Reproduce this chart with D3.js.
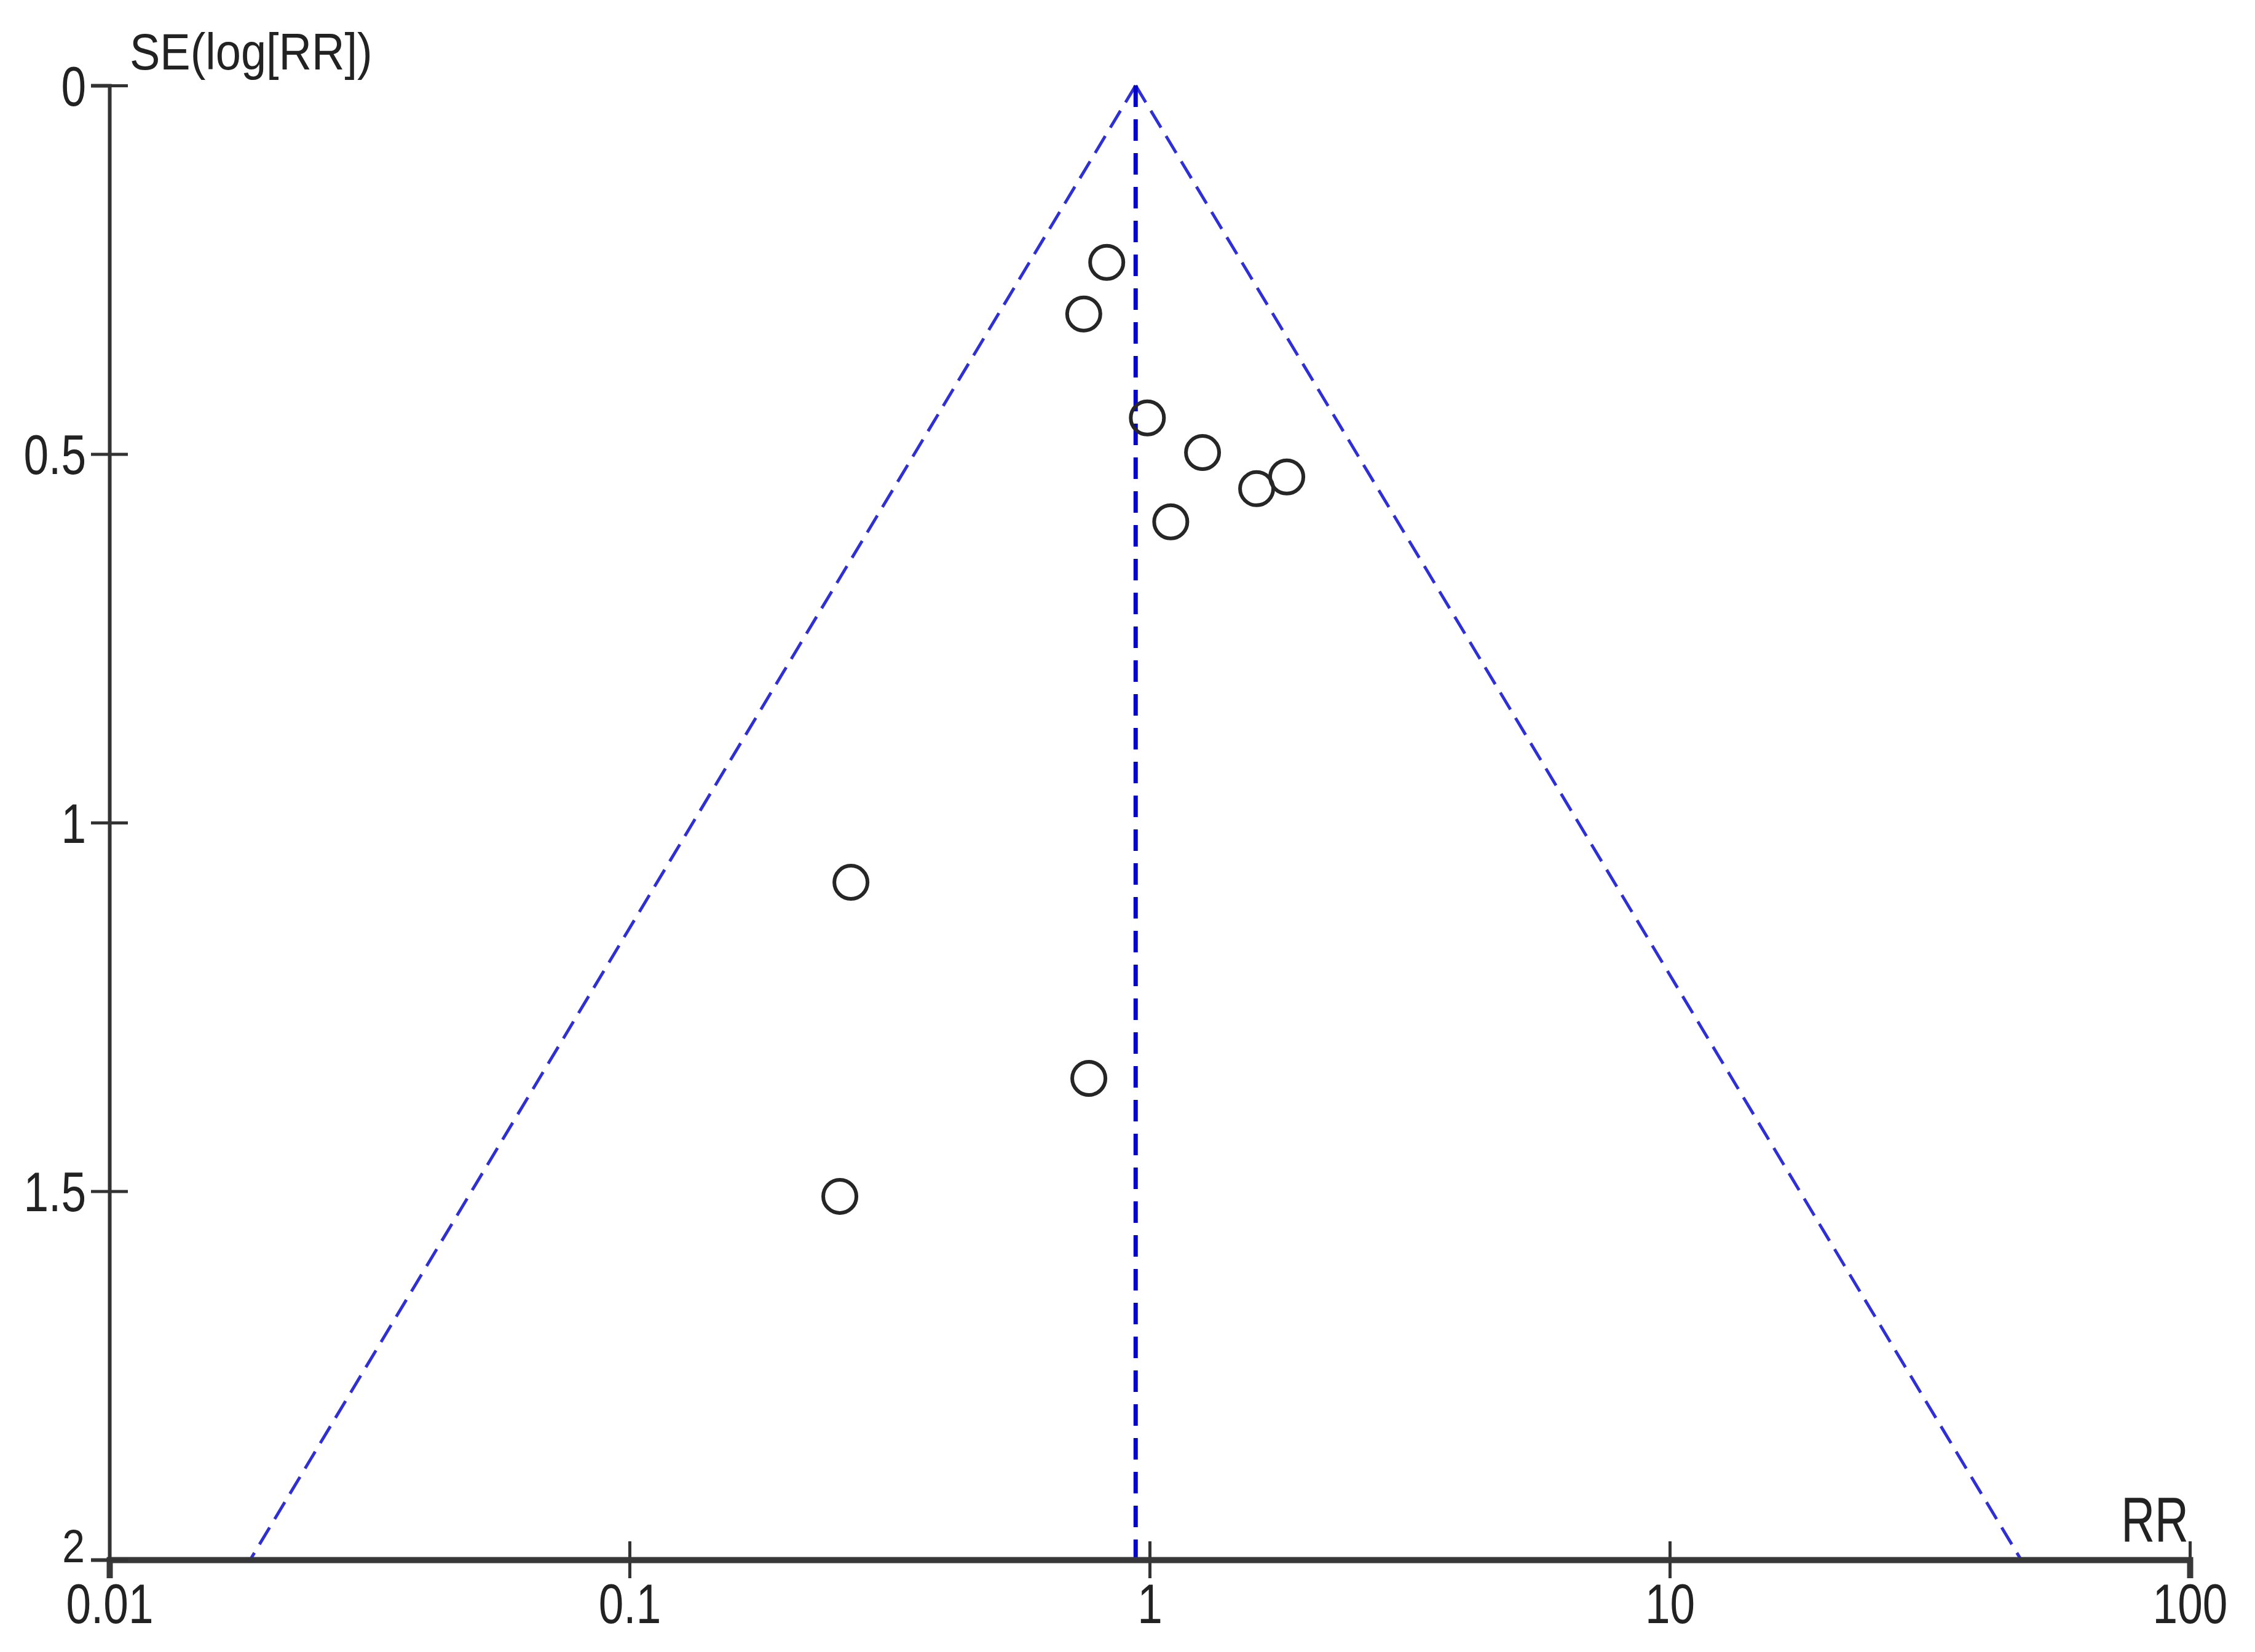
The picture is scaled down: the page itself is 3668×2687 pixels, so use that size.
<!DOCTYPE html>
<html>
<head>
<meta charset="utf-8">
<script src="https://cdn.jsdelivr.net/npm/d3@7"></script>
<style>
  html, body { margin: 0; padding: 0; background: #fff; }
  svg { display: block; }
  text { font-family: "Liberation Sans", Arial, sans-serif; fill: #222; }
</style>
</head>
<body>
<svg id="chart" width="3668" height="2687"></svg>
<script>
// Funnel plot: RR (log scale) against SE(log[RR])

// study estimates
const studyRR = [0.827, 0.747, 0.99, 1.264, 1.835, 1.606, 1.098, 0.2665, 0.764, 0.2537];
const studySE = [0.24, 0.31, 0.451, 0.498, 0.531, 0.547, 0.592, 1.081, 1.347, 1.507];

// pooled estimate (vertical dashed line / funnel apex)
const pooledRR = 0.94;
const maxSE = 2;

const xTicks = [0.01, 0.1, 1, 10, 100];
const xTickLabels = ["0.01", "0.1", "1", "10", "100"];
const yTicks = [0, 0.5, 1, 1.5, 2];
const yTickLabels = ["0", "0.5", "1", "1.5", "2"];

const plot = { left: 178, right: 3562, top: 139, bottom: 2537 };

function drawChart() {
  const svg = d3.select("#chart");

  const x = d3.scaleLog().domain([0.01, 100]).range([plot.left, plot.right]);
  const y = d3.scaleLinear().domain([0, maxSE]).range([plot.top, plot.bottom]);

  // funnel: 95% limits around pooled estimate
  const z = 1.96;
  const funnelLeft = [
    { rr: pooledRR, se: 0 },
    { rr: pooledRR * Math.exp(-z * maxSE), se: maxSE },
  ];
  const funnelRight = [
    { rr: pooledRR, se: 0 },
    { rr: pooledRR * Math.exp(z * maxSE), se: maxSE },
  ];

  const line = d3
    .line()
    .x((d) => x(d.rr))
    .y((d) => y(d.se));

  const gFunnel = svg.append("g").attr("class", "funnel");
  [funnelLeft, funnelRight].forEach((pts) => {
    gFunnel
      .append("path")
      .attr("d", line(pts))
      .attr("fill", "none")
      .attr("stroke", "#2f2fd8")
      .attr("stroke-width", 5)
      .attr("stroke-dasharray", "32,16");
  });

  gFunnel
    .append("path")
    .attr("d", line([{ rr: pooledRR, se: 0 }, { rr: pooledRR, se: maxSE }]))
    .attr("fill", "none")
    .attr("stroke", "#0505c8")
    .attr("stroke-width", 7)
    .attr("stroke-dasharray", "35,20");

  // x axis
  const xAxis = svg
    .append("g")
    .attr("transform", `translate(0,${plot.bottom})`)
    .call(
      d3.axisBottom(x)
        .tickValues(xTicks)
        .tickFormat((d, i) => xTickLabels[i])
        .tickSizeOuter(0)
        .tickSize(30)
    );
  xAxis.select(".domain")
    .attr("stroke", "#383838")
    .attr("stroke-width", 10);
  xAxis.selectAll(".tick line")
    .attr("y1", -30)
    .attr("y2", 30)
    .attr("stroke", "#333")
    .attr("stroke-width", 5);
  xAxis.selectAll(".tick text")
    .attr("y", null)
    .attr("dy", null)
    .attr("font-size", 73)
    .attr("font-family", null)
    .attr("fill", "#222")
    .attr("text-anchor", "middle")
    .attr("transform", "translate(0,103) scale(1,1.25)");

  // y axis
  const yAxis = svg
    .append("g")
    .attr("transform", `translate(${plot.left},0)`)
    .call(
      d3.axisLeft(y)
        .tickValues(yTicks)
        .tickFormat((d, i) => yTickLabels[i])
        .tickSizeOuter(0)
        .tickSize(30)
    );
  yAxis.select(".domain")
    .attr("stroke", "#333")
    .attr("stroke-width", 6);
  yAxis.selectAll(".tick line")
    .attr("x1", -30)
    .attr("x2", 30)
    .attr("stroke", "#333")
    .attr("stroke-width", 5);
  // the "2" label sits just above the 0.01 label, so it is nudged up
  yAxis.selectAll(".tick text")
    .attr("x", null)
    .attr("dy", null)
    .attr("font-size", (d) => (d === maxSE ? 66 : 73))
    .attr("font-family", null)
    .attr("fill", "#222")
    .attr("text-anchor", "end")
    .attr("transform", (d) => (d === maxSE
      ? "translate(-40,3) scale(1,1.15)"
      : "translate(-38,32) scale(1,1.25)"));

  svg.selectAll(".domain").raise();

  // axis titles
  svg.append("text")
    .attr("transform", "translate(211,113) scale(1,1.13)")
    .attr("font-size", 74)
    .text("SE(log[RR])");

  svg.append("text")
    .attr("transform", "translate(3560,2508) scale(1,1.36)")
    .attr("text-anchor", "end")
    .attr("font-size", 76)
    .text("RR");

  // studies
  const studies = studyRR.map((rr, i) => ({ rr, se: studySE[i] }));
  svg.append("g")
    .attr("class", "studies")
    .selectAll("circle")
    .data(studies)
    .enter()
    .append("circle")
    .attr("cx", (d) => x(d.rr))
    .attr("cy", (d) => y(d.se))
    .attr("r", 27)
    .attr("fill", "none")
    .attr("stroke", "#262626")
    .attr("stroke-width", 6);
}

drawChart();
</script>
</body>
</html>
